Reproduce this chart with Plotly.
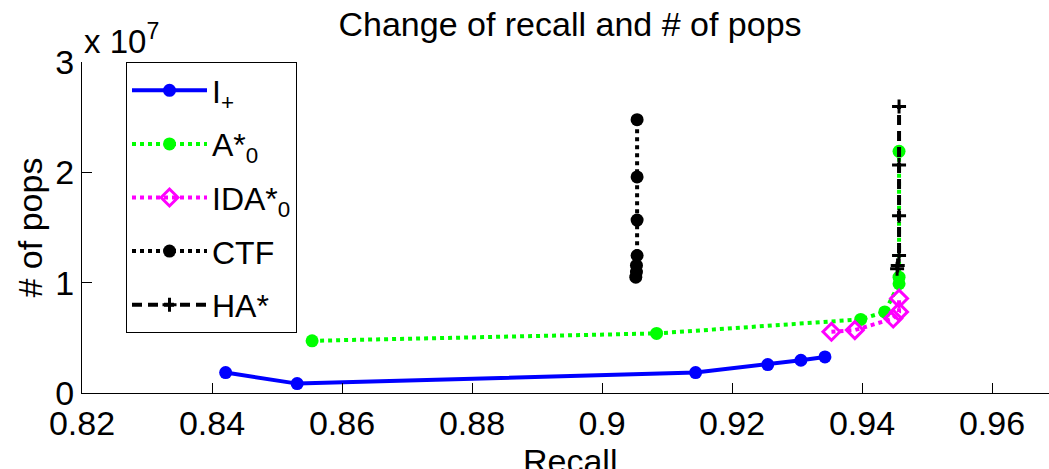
import plotly.graph_objects as go

# ---- data ----
recall_iplus = [0.8421, 0.8531, 0.9144, 0.9255, 0.9306, 0.9343]
pops_iplus = [1.85e6, 0.85e6, 1.85e6, 2.58e6, 2.97e6, 3.27e6]

recall_astar = [0.8554, 0.9084, 0.9398, 0.9435, 0.9457, 0.9457, 0.9457]
pops_astar = [4.73e6, 5.40e6, 6.67e6, 7.35e6, 9.9e6, 1.05e7, 2.19e7]

recall_ida = [0.9353, 0.9389, 0.9448, 0.9457, 0.9457]
pops_ida = [5.55e6, 5.70e6, 6.75e6, 7.35e6, 8.56e6]

recall_ctf = [0.9052, 0.9053, 0.9053, 0.9054, 0.9054, 0.9054, 0.9054]
pops_ctf = [1.05e7, 1.096e7, 1.156e7, 1.246e7, 1.567e7, 1.958e7, 2.477e7]

recall_ha = [0.9454, 0.9455, 0.9457, 0.9457, 0.9457, 0.9457]
pops_ha = [1.126e7, 1.156e7, 1.246e7, 1.606e7, 2.066e7, 2.597e7]

x_ticks = [0.82, 0.84, 0.86, 0.88, 0.90, 0.92, 0.94, 0.96]
x_tick_labels = ["0.82", "0.84", "0.86", "0.88", "0.9", "0.92", "0.94", "0.96"]
y_ticks = [0, 1e7, 2e7, 3e7]
y_tick_labels = ["0", "1", "2", "3"]

FONT = "Liberation Sans"
W, H = 1049, 469
ML, MR, MT, MB = 82, 0, 62, 76

fig = go.Figure()

fig.add_trace(go.Scatter(
    x=recall_iplus, y=pops_iplus, mode="lines+markers", name="I<sub>+</sub>",
    legendgroup="g1",
    line=dict(color="#0000FF", width=4),
    marker=dict(symbol="circle", size=13, color="#0000FF")))
fig.add_trace(go.Scatter(
    x=recall_astar, y=pops_astar, mode="lines+markers", name="A*<sub>0</sub>",
    legendgroup="g2",
    line=dict(color="#00FF00", width=4, dash="dot"),
    marker=dict(symbol="circle", size=13, color="#00FF00")))
fig.add_trace(go.Scatter(
    x=recall_ida, y=pops_ida, mode="lines+markers", name="IDA*<sub>0</sub>",
    legendgroup="g3",
    line=dict(color="#FF00FF", width=4, dash="dot"),
    marker=dict(symbol="diamond-open", size=13, color="#FF00FF",
                line=dict(color="#FF00FF", width=3))))
fig.add_trace(go.Scatter(
    x=recall_ctf, y=pops_ctf, mode="lines+markers", name="CTF",
    legendgroup="g4",
    line=dict(color="#000000", width=4, dash="dot"),
    marker=dict(symbol="circle", size=13, color="#000000")))
fig.add_trace(go.Scatter(
    x=recall_ha, y=pops_ha, mode="lines+markers", name="HA*",
    legendgroup="g5",
    line=dict(color="#000000", width=4, dash="10px,6px"),
    marker=dict(symbol="cross-thin", size=10, color="#000000",
                line=dict(color="#000000", width=3))))

plot_w = W - ML - MR
plot_h = H - MT - MB
x0 = 0.82
x1 = x0 + plot_w * (0.02 / 130.0)

axis_common = dict(
    showline=True, linecolor="black", linewidth=1,
    ticks="inside", ticklen=10, tickcolor="black", tickwidth=1,
    showgrid=False, zeroline=False, mirror=False,
    tickfont=dict(family=FONT, size=34, color="black"),
)

fig.update_layout(
    width=W, height=H,
    margin=dict(l=ML, r=MR, t=MT, b=MB),
    paper_bgcolor="white", plot_bgcolor="white",
    font=dict(family=FONT, color="black"),
    title=dict(text="Change of recall and # of pops",
               font=dict(family=FONT, size=34, color="black"),
               x=570 / W, xref="container", xanchor="center",
               y=1 - 24 / H, yref="container", yanchor="middle"),
    xaxis=dict(range=[x0, x1], tickvals=x_ticks, ticktext=x_tick_labels,
               **axis_common),
    yaxis=dict(range=[0, 3e7], tickvals=y_ticks, ticktext=y_tick_labels,
               **axis_common),
    legend=dict(x=(126 - ML) / plot_w, y=1, xanchor="left", yanchor="top",
                bgcolor="white", bordercolor="black", borderwidth=1,
                font=dict(family=FONT, size=32, color="black"),
                traceorder="grouped", tracegroupgap=9, itemwidth=75),
    showlegend=True,
    annotations=[
        dict(text="# of pops", textangle=-90, xref="paper", yref="paper",
             x=(29 - ML) / plot_w, y=0.5, xanchor="center", yanchor="middle",
             showarrow=False, font=dict(family=FONT, size=34, color="black")),
        dict(text="x 10<sup>7</sup>", xref="paper", yref="paper",
             x=0, y=1, xanchor="left", yanchor="bottom", yshift=0,
             showarrow=False, font=dict(family=FONT, size=33, color="black")),
        dict(text="Recall", xref="paper", yref="paper",
             x=(570 - ML) / plot_w, y=(plot_h - (440 - MT)) / plot_h,
             xanchor="center", yanchor="top",
             showarrow=False, font=dict(family=FONT, size=34, color="black")),
    ],
)

fig.write_html("out.html")
